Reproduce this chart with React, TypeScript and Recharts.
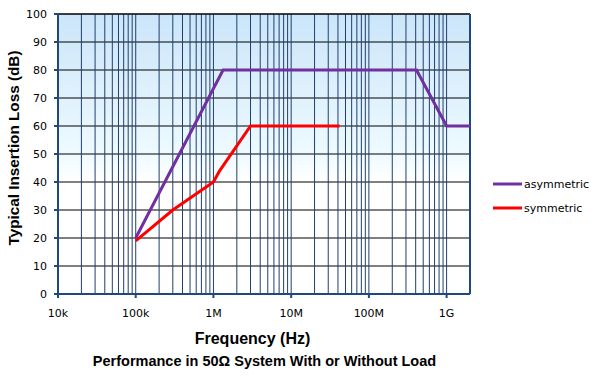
import {
  ComposedChart, Line, XAxis, YAxis, CartesianGrid, ReferenceLine, Legend, Label,
} from "recharts";

// frequency (Hz) / insertion loss (dB)
const asymFreq = [1e5, 1.33e6, 4.1e8, 1e9, 2e9];
const asymLoss = [20, 80, 80, 60, 60];
const symFreq = [1e5, 3e5, 1e6, 1.2e6, 3e6, 4.2e7];
const symLoss = [19, 30, 40, 44, 60, 60];

const xTicks = [1e4, 1e5, 1e6, 1e7, 1e8, 1e9];
const xTickNames = ["10k", "100k", "1M", "10M", "100M", "1G"];
const yTicks = [0, 10, 20, 30, 40, 50, 60, 70, 80, 90, 100];
const minorSteps = [2, 3, 4, 5, 6, 7, 8, 9];
const X_MIN = 1e4;
const X_MAX = 2e9;

const asymData = asymFreq.map((f, i) => ({ f, loss: asymLoss[i] }));
const symData = symFreq.map((f, i) => ({ f, loss: symLoss[i] }));

// vertical grid: every 1..9 step of each decade
const gridFreqs: number[] = [];
xTicks.forEach((d, i) => {
  if (i > 0) gridFreqs.push(d);
  minorSteps.forEach((m) => {
    if (d * m < X_MAX) gridFreqs.push(d * m);
  });
});

const PURPLE = "#7030A0";
const RED = "#FF0000";
const NAVY = "#1F3F6E";
const AXIS = "#1F497D";
const TICK_FONT = "'DejaVu Sans', Verdana, sans-serif";
const TITLE_FONT = "'Liberation Sans', Arial, sans-serif";

const tickLabel = (v: number) => xTickNames[xTicks.indexOf(v)] ?? "";

const YTitle = (props: any) => {
  const vb = props.viewBox;
  const cx = 19;
  const cy = vb.y + vb.height / 2 - 6;
  return (
    <text x={cx} y={cy} transform={`rotate(-90, ${cx}, ${cy})`} textAnchor="middle"
      fontFamily={TITLE_FONT} fontWeight="bold" fontSize={15.5} fill="#000"
      textLength={195} lengthAdjust="spacingAndGlyphs">
      Typical Insertion Loss (dB)
    </text>
  );
};

const XTitles = (props: any) => {
  const vb = props.viewBox;
  const cx = vb.x + vb.width / 2;
  return (
    <g fontFamily={TITLE_FONT} fontWeight="bold" fill="#000">
      <text x={cx - 11.5} y={vb.y + 50} textAnchor="middle" fontSize={16}>Frequency (Hz)</text>
      <text x={cx + 0.5} y={vb.y + 72} textAnchor="middle" fontSize={14.5}>
        Performance in 50Ω System With or Without Load
      </text>
    </g>
  );
};

const renderLegend = (props: any) => (
  <div style={{ fontFamily: TICK_FONT, fontSize: 11, color: "#000" }}>
    {props.payload.map((p: any) => (
      <div key={p.value} style={{ display: "flex", alignItems: "center", height: 24 }}>
        <svg width={30} height={4} style={{ marginRight: 1 }}>
          <line x1={0} y1={2} x2={29} y2={2} stroke={p.color} strokeWidth={3} />
        </svg>
        <span>{p.value}</span>
      </div>
    ))}
  </div>
);

export default function App() {
  return (
    <div style={{ position: "absolute", left: 0, top: 0, width: 594, height: 383, background: "#fff" }}>
      <ComposedChart width={594} height={383} margin={{ top: 14, right: 124, bottom: 0, left: 0 }}>
        <defs>
          <linearGradient id="plotBg" x1="0" y1="0" x2="0" y2="1">
            <stop offset="0%" stopColor="#CBE5F9" />
            <stop offset="50%" stopColor="#EEFAFF" />
            <stop offset="60%" stopColor="#FFFFFF" />
            <stop offset="100%" stopColor="#FFFFFF" />
          </linearGradient>
        </defs>
        <CartesianGrid vertical={false} stroke="#000" strokeOpacity={1} fill="url(#plotBg)" />
        {gridFreqs.map((f) => (
          <ReferenceLine key={f} x={f} stroke={NAVY} strokeWidth={1} />
        ))}
        <ReferenceLine y={100} stroke="#000" strokeWidth={1} />
        <ReferenceLine x={X_MAX} stroke={AXIS} strokeWidth={2} />
        <XAxis
          dataKey="f"
          type="number"
          scale="log"
          domain={[X_MIN, X_MAX]}
          allowDataOverflow
          ticks={xTicks}
          tickFormatter={tickLabel}
          height={89}
          tickSize={4}
          tickMargin={11}
          axisLine={{ stroke: AXIS, strokeWidth: 2 }}
          tickLine={{ stroke: AXIS, strokeWidth: 2 }}
          tick={{ fill: "#000", fontSize: 11, fontFamily: TICK_FONT }}
        >
          <Label content={XTitles} />
        </XAxis>
        <YAxis
          type="number"
          domain={[0, 100]}
          ticks={yTicks}
          width={58}
          tickSize={4}
          tickMargin={7}
          axisLine={{ stroke: AXIS, strokeWidth: 2 }}
          tickLine={{ stroke: AXIS, strokeWidth: 2 }}
          tick={{ fill: "#000", fontSize: 11, fontFamily: TICK_FONT }}
        >
          <Label content={YTitle} />
        </YAxis>
        <Legend
          layout="vertical"
          align="center"
          verticalAlign="middle"
          content={renderLegend}
          wrapperStyle={{ position: "absolute", left: 493, top: 172, width: 100 }}
        />
        <Line data={asymData} dataKey="loss" name="asymmetric" type="linear" stroke={PURPLE}
          strokeWidth={3} dot={false} isAnimationActive={false} />
        <Line data={symData} dataKey="loss" name="symmetric" type="linear" stroke={RED}
          strokeWidth={3} dot={false} isAnimationActive={false} />
      </ComposedChart>
    </div>
  );
}
